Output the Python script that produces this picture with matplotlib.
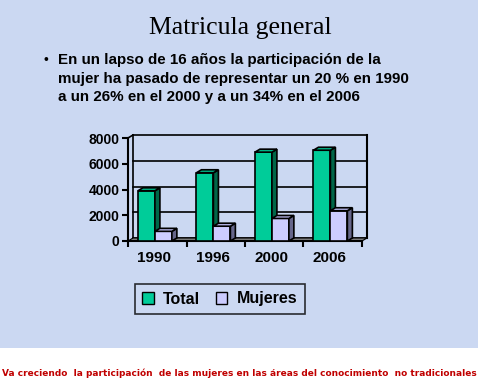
import matplotlib
matplotlib.use('Agg')
import matplotlib.pyplot as plt
from matplotlib.patches import Rectangle, Polygon

# datos
anios = ['1990', '1996', '2000', '2006']
total = [3900, 5300, 6900, 7050]
mujeres = [750, 1150, 1750, 2350]
yticks = [0, 2000, 4000, 6000, 8000]

titulo = 'Matricula general'
vineta = ['En un lapso de 16 años la participación de la',
          'mujer ha pasado de representar un 20 % en 1990',
          'a un 26% en el 2000 y a un 34% en el 2006']
pie = 'Va creciendo  la participación  de las mujeres en las áreas del conocimiento  no tradicionales'

W, H = 478, 388
fondo = '#cbd8f2'

fig = plt.figure(figsize=(W / 100, H / 100), dpi=100)
fig.patch.set_facecolor('white')
fig.add_artist(Rectangle((0, 1 - 348 / H), 1, 348 / H, transform=fig.transFigure,
                         facecolor=fondo, edgecolor='none', zorder=0))

fig.text(240 / W, 1 - 28 / H, titulo, family='Liberation Serif', fontsize=18.5,
         ha='center', va='center')
fig.text(44 / W, 1 - 60 / H, '•', family='Liberation Sans', fontsize=10,
         ha='left', va='center')
for k, linea in enumerate(vineta):
    fig.text(58 / W, 1 - (60 + 18.5 * k) / H, linea, family='Liberation Sans',
             weight='bold', fontsize=10.9, ha='left', va='center')

fig.text(239 / W, 1 - 373 / H, pie, family='DejaVu Sans', weight='bold',
         fontsize=6.45, color='#c00000', ha='center', va='center')

# ejes (plano frontal)
x0, x1, yb, yt = 128, 362, 241, 138
ax = fig.add_axes([x0 / W, 1 - yb / H, (x1 - x0) / W, (yb - yt) / H])
ax.set_xlim(0, 4)
ax.set_ylim(0, 8000)
ax.patch.set_alpha(0)
for s in ['top', 'right', 'bottom']:
    ax.spines[s].set_visible(False)
ax.spines['left'].set_linewidth(1.5)

# profundidad en unidades de datos
dx = 5 / (x1 - x0) * 4
dy = 3 / (yb - yt) * 8000

# pared del fondo y piso
for v in yticks:
    ax.plot([dx, 4 + dx], [v + dy, v + dy], color='black', lw=1.2, clip_on=False, zorder=1)
ax.plot([dx, dx], [dy, 8000 + dy], color='black', lw=1.2, clip_on=False, zorder=1)
ax.plot([4 + dx, 4 + dx], [dy, 8000 + dy], color='black', lw=1.5, clip_on=False, zorder=1)
ax.plot([0, dx], [8000, 8000 + dy], color='black', lw=1.2, clip_on=False, zorder=1)
ax.add_patch(Polygon([(0, 0), (4, 0), (4 + dx, dy), (dx, dy)], closed=True,
                     facecolor='#808080', edgecolor='black', lw=0.8, clip_on=False, zorder=2))
ax.plot([0, 4], [0, 0], color='black', lw=1.5, clip_on=False, zorder=2)

ancho = 0.29
inicio = 0.17
series = [(total, 0, '#00cc99', '#006648', '#00b386', 'Total'),
          (mujeres, 1, '#ccccff', '#66668a', '#b3b3e6', 'Mujeres')]
manijas = []
for valores, j, cf, cs, ct, nombre in series:
    xs = [i + inicio + j * ancho for i in range(len(anios))]
    ax.bar(xs, valores, width=ancho, align='edge', color=cf,
           edgecolor='black', lw=1.2, zorder=3 + j, clip_on=False)
    for x, v in zip(xs, valores):
        ax.add_patch(Polygon([(x + ancho, 0), (x + ancho + dx, dy), (x + ancho + dx, v + dy), (x + ancho, v)],
                             closed=True, facecolor=cs, edgecolor='black', lw=1.2,
                             zorder=3 + j, clip_on=False))
        ax.add_patch(Polygon([(x, v), (x + dx, v + dy), (x + ancho + dx, v + dy), (x + ancho, v)],
                             closed=True, facecolor=ct, edgecolor='black', lw=1.2,
                             zorder=3 + j, clip_on=False))
    manijas.append(Rectangle((0, 0), 1, 1, facecolor=cf, edgecolor='black', lw=1, label=nombre))

ax.set_yticks(yticks)
ax.set_yticklabels([str(v) for v in yticks], family='Liberation Sans', weight='bold', fontsize=10)
ax.set_xticks(range(5))
ax.set_xticklabels([])
ax.tick_params(axis='y', length=4, width=1.5, pad=2)
ax.tick_params(axis='x', length=4, width=1.5)
for i, a in enumerate(anios):
    ax.text(i + 0.45, -1300, a, family='Liberation Sans', weight='bold', fontsize=11,
            ha='center', va='center')

leg = fig.legend(handles=manijas, loc='center', bbox_to_anchor=(220 / W, 1 - 299 / H),
                 ncol=2, frameon=True, fancybox=False, handlelength=0.7, handleheight=0.7,
                 handletextpad=0.6, columnspacing=1.0, borderpad=0.45,
                 prop={'family': 'Liberation Sans', 'weight': 'bold', 'size': 11.5})
leg.get_frame().set_edgecolor('black')
leg.get_frame().set_facecolor('none')
leg.get_frame().set_linewidth(1.2)

fig.savefig('out.png', dpi=100)
